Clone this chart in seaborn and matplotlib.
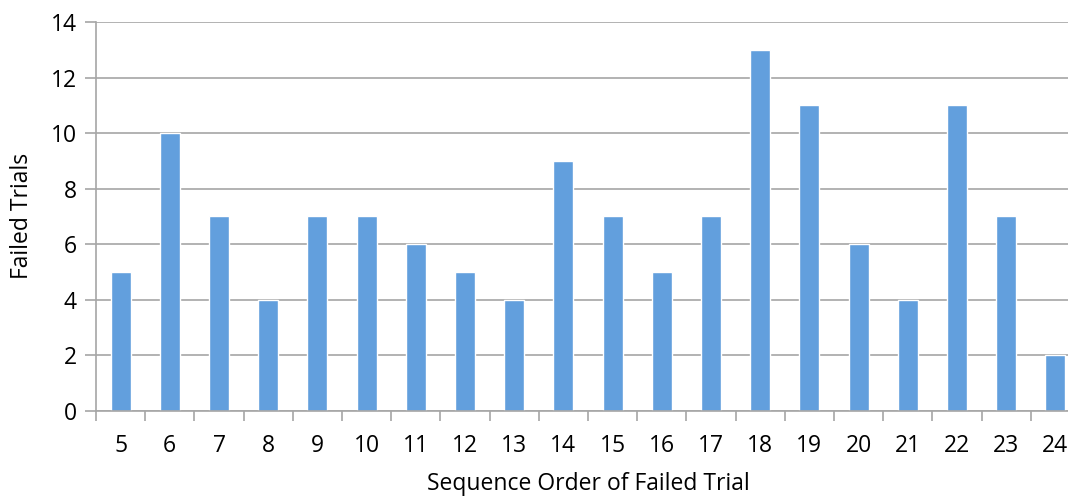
import matplotlib
matplotlib.use("Agg")
import matplotlib.pyplot as plt
import seaborn as sns
import pandas as pd

categories = [str(i) for i in range(5, 25)]
failed_trials = [5, 10, 7, 4, 7, 7, 6, 5, 4, 9, 7, 5, 7, 13, 11, 6, 4, 11, 7, 2]
y_ticks = [0, 2, 4, 6, 8, 10, 12, 14]

sns.set_theme(style="white")
plt.rcParams['font.family'] = ['Open Sans', 'DejaVu Sans']

df = pd.DataFrame({"order": categories, "failed": failed_trials})

fig = plt.figure(figsize=(10.68, 5.0), dpi=100)
W, H = 1068, 500
ax = fig.add_axes([96 / W, (H - 410.7) / H, (1080 - 96) / W, (410.7 - 22) / H])

sns.barplot(data=df, x="order", y="failed", color="#629FDD", width=0.41,
            saturation=1, ax=ax, zorder=3)

ax.set_ylim(0, 14)
ax.set_xlim(-0.5, len(categories) - 0.5)
ax.set_yticks(y_ticks)
ax.set_yticklabels([str(v) for v in y_ticks])
ax.yaxis.grid(True, color="#A6A6A6", linewidth=1.2, zorder=0)
ax.xaxis.grid(False)

for s in ["top", "right"]:
    ax.spines[s].set_visible(False)
for s in ["left", "bottom"]:
    ax.spines[s].set_color("#A6A6A6")
    ax.spines[s].set_linewidth(1.2)
    ax.spines[s].set_zorder(4)

# x ticks between categories
ax.set_xticks([i - 0.5 for i in range(len(categories) + 1)], minor=True)
ax.set_xticks(range(len(categories)))
ax.set_xticklabels(categories)
ax.tick_params(axis="x", which="major", length=0, pad=17, labelsize=16.5, colors="black")
ax.tick_params(axis="x", which="minor", length=7, width=1.2, color="#A6A6A6", bottom=True)
ax.tick_params(axis="y", which="major", length=8, width=1.2, color="#A6A6A6", left=True,
               labelsize=16.5, pad=6, colors="black")

ax.set_xlabel("Sequence Order of Failed Trial", fontsize=16.5, labelpad=10, color="black")
ax.set_ylabel("Failed Trials", fontsize=16.5, labelpad=12, color="black")

fig.savefig("out.png", dpi=100)
